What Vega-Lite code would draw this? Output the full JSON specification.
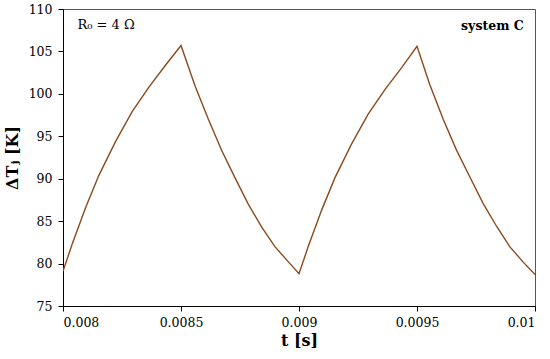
{
  "$schema": "https://vega.github.io/schema/vega-lite/v6.json",
  "width": 472,
  "height": 297,
  "autosize": {"type": "none"},
  "padding": {"left": 63, "top": 9, "right": 15, "bottom": 53},
  "background": "white",
  "config": {
    "view": {"stroke": "#555", "strokeWidth": 1},
    "font": "DejaVu Serif",
    "axis": {
      "grid": false,
      "domainColor": "#000",
      "tickColor": "#000",
      "tickSize": 5,
      "labelFont": "DejaVu Serif",
      "labelFontSize": 12.5,
      "labelColor": "#000",
      "titleFont": "DejaVu Serif",
      "titleFontSize": 16,
      "titleFontWeight": "bold",
      "titleColor": "#000"
    }
  },
  "datasets": {
    "curve": [
      {"t": 0.008, "dT": 79.1},
      {"t": 0.008039, "dT": 82.3},
      {"t": 0.008096, "dT": 86.6},
      {"t": 0.008152, "dT": 90.4},
      {"t": 0.008223, "dT": 94.4},
      {"t": 0.008293, "dT": 97.9},
      {"t": 0.008364, "dT": 100.8},
      {"t": 0.008435, "dT": 103.4},
      {"t": 0.0085, "dT": 105.7},
      {"t": 0.00856, "dT": 100.9},
      {"t": 0.008616, "dT": 97.0},
      {"t": 0.008673, "dT": 93.3},
      {"t": 0.008729, "dT": 90.1},
      {"t": 0.008785, "dT": 87.0},
      {"t": 0.008842, "dT": 84.3},
      {"t": 0.008898, "dT": 82.0},
      {"t": 0.008955, "dT": 80.2},
      {"t": 0.009, "dT": 78.8},
      {"t": 0.009039, "dT": 82.0},
      {"t": 0.009096, "dT": 86.3},
      {"t": 0.009152, "dT": 90.1},
      {"t": 0.009223, "dT": 94.1},
      {"t": 0.009293, "dT": 97.6},
      {"t": 0.009364, "dT": 100.5},
      {"t": 0.009435, "dT": 103.1},
      {"t": 0.0095, "dT": 105.6},
      {"t": 0.009554, "dT": 101.1},
      {"t": 0.009611, "dT": 97.0},
      {"t": 0.009667, "dT": 93.4},
      {"t": 0.009724, "dT": 90.2},
      {"t": 0.00978, "dT": 87.1},
      {"t": 0.009837, "dT": 84.4},
      {"t": 0.009893, "dT": 82.0},
      {"t": 0.009949, "dT": 80.2},
      {"t": 0.01, "dT": 78.7}
    ],
    "notes": [
      {"t": 0.008061, "dT": 108.1, "label": "R₀ = 4 Ω", "kind": "left"},
      {"t": 0.009952, "dT": 108.0, "label": "system C", "kind": "right"}
    ]
  },
  "layer": [
    {
      "data": {"name": "curve"},
      "mark": {"type": "line", "color": "#8a4a1c", "strokeWidth": 1.4, "clip": true},
      "encoding": {
        "x": {
          "field": "t", "type": "quantitative",
          "scale": {"domain": [0.008, 0.01], "nice": false, "zero": false},
          "axis": {"title": "t [s]", "values": [0.008, 0.0085, 0.009, 0.0095, 0.01], "format": "~g", "labelPadding": 5, "titlePadding": 4}
        },
        "y": {
          "field": "dT", "type": "quantitative",
          "scale": {"domain": [75, 110], "nice": false, "zero": false},
          "axis": {"title": "ΔTⱼ [K]", "values": [75, 80, 85, 90, 95, 100, 105, 110], "labelPadding": 6, "titlePadding": 8}
        }
      }
    },
    {
      "data": {"name": "notes"},
      "transform": [{"filter": "datum.kind === 'left'"}],
      "mark": {"type": "text", "align": "left", "baseline": "middle", "fontSize": 13, "font": "DejaVu Serif", "color": "#000"},
      "encoding": {
        "x": {"field": "t", "type": "quantitative"},
        "y": {"field": "dT", "type": "quantitative"},
        "text": {"field": "label"}
      }
    },
    {
      "data": {"name": "notes"},
      "transform": [{"filter": "datum.kind === 'right'"}],
      "mark": {"type": "text", "align": "right", "baseline": "middle", "fontSize": 12.5, "fontWeight": "bold", "font": "DejaVu Serif", "color": "#000"},
      "encoding": {
        "x": {"field": "t", "type": "quantitative"},
        "y": {"field": "dT", "type": "quantitative"},
        "text": {"field": "label"}
      }
    }
  ]
}
